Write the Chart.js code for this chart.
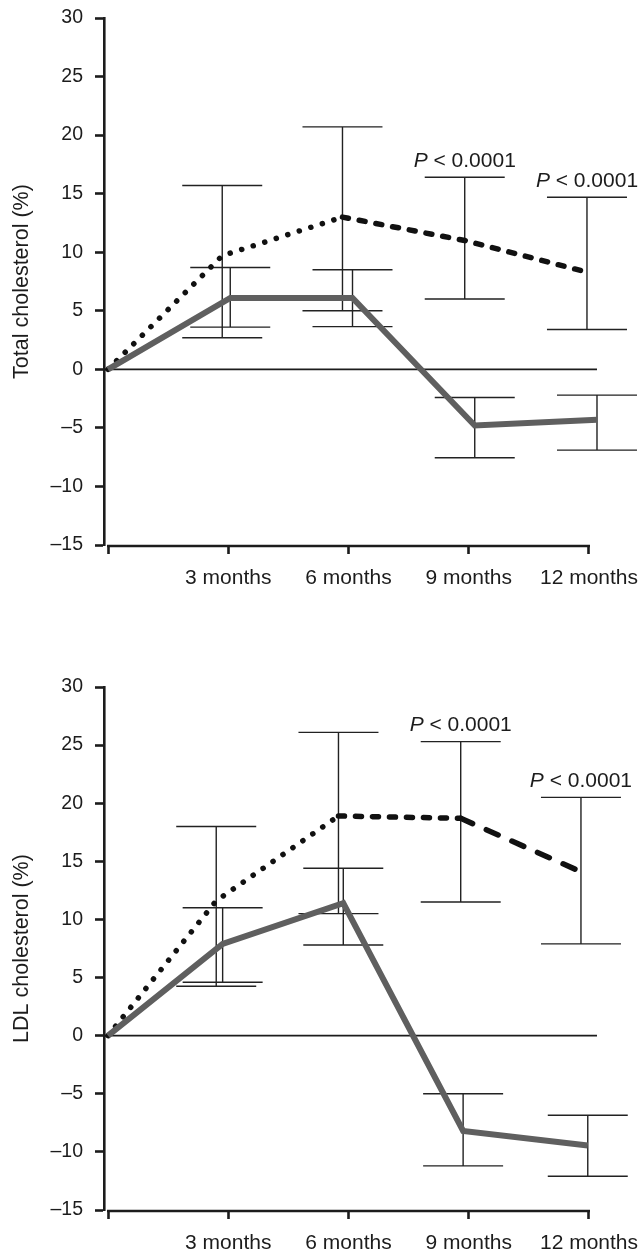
<!DOCTYPE html>
<html>
<head>
<meta charset="utf-8">
<script src="https://cdn.jsdelivr.net/npm/chart.js@4.4.1/dist/chart.umd.min.js"></script>
<style>
  body { margin: 0; background: #fff; }
  canvas { display: block; }
</style>
</head>
<body>
<canvas id="total" width="638" height="600"></canvas>
<canvas id="ldl" width="638" height="650"></canvas>
<script>
// x axis (months) and its labels
const monthTicks = [0, 3, 6, 9, 12];
const monthLabels = ["", "3 months", "6 months", "9 months", "12 months"];
const pLabels = [null, null, null, "P < 0.0001", "P < 0.0001"];

// Total cholesterol, dotted group
const totalDotX = [0, 2.85, 5.85, 8.9, 11.95];
const totalDotMean = [0, 9.7, 13.0, 11.0, 8.3];
const totalDotHigh = [null, 15.7, 20.7, 16.4, 14.7];
const totalDotLow = [null, 2.7, 5.0, 6.0, 3.4];
// Total cholesterol, solid group
const totalSolidX = [0, 3.05, 6.1, 9.15, 12.2];
const totalSolidMean = [0, 6.1, 6.1, -4.8, -4.3];
const totalSolidHigh = [null, 8.7, 8.5, -2.4, -2.2];
const totalSolidLow = [null, 3.6, 3.65, -7.55, -6.9];

// LDL cholesterol, dotted group
const ldlDotX = [0, 2.7, 5.75, 8.8, 11.8];
const ldlDotMean = [0, 11.6, 18.9, 18.7, 14.1];
const ldlDotHigh = [null, 18.0, 26.1, 25.3, 20.5];
const ldlDotLow = [null, 4.25, 10.5, 11.5, 7.9];
// LDL cholesterol, solid group
const ldlSolidX = [0, 2.86, 5.87, 8.86, 11.97];
const ldlSolidMean = [0, 7.9, 11.4, -8.2, -9.45];
const ldlSolidHigh = [null, 11.0, 14.4, -5.0, -6.85];
const ldlSolidLow = [null, 4.6, 7.8, -11.2, -12.1];

const FONT = "'Liberation Sans', Arial, sans-serif";
const INK = "#1c1c1c";

function points(xs, ys) {
  return xs.map((x, i) => ({ x: x, y: ys[i] }));
}

function makeChart(id, title, topPad, axisHeight, dot, solid, dashes) {
  const bars = [
    { xs: dot.x, high: dot.high, low: dot.low },
    { xs: solid.x, high: solid.high, low: solid.low },
  ];

  const extras = {
    id: "extras",
    beforeDatasetsDraw(chart) {
      const { ctx, chartArea } = chart;
      const x = chart.scales.x, y = chart.scales.y;
      ctx.save();
      // zero line
      ctx.strokeStyle = INK;
      ctx.lineWidth = 1.8;
      ctx.beginPath();
      ctx.moveTo(chartArea.left, y.getPixelForValue(0));
      ctx.lineTo(x.getPixelForValue(12.2), y.getPixelForValue(0));
      ctx.stroke();
      // x axis line, starts at month 0 and stops at 12
      ctx.lineWidth = 2.6;
      ctx.beginPath();
      ctx.moveTo(x.getPixelForValue(0) - 1, chartArea.bottom + 1);
      ctx.lineTo(x.getPixelForValue(12) + 1, chartArea.bottom + 1);
      ctx.stroke();
      // error bars
      ctx.lineWidth = 1.4;
      ctx.strokeStyle = "#222";
      bars.forEach((bar) => {
        bar.xs.forEach((m, i) => {
          if (bar.high[i] == null) return;
          const px = x.getPixelForValue(m);
          const top = y.getPixelForValue(bar.high[i]);
          const bot = y.getPixelForValue(bar.low[i]);
          ctx.beginPath();
          ctx.moveTo(px, top);
          ctx.lineTo(px, bot);
          ctx.moveTo(px - 40, top);
          ctx.lineTo(px + 40, top);
          ctx.moveTo(px - 40, bot);
          ctx.lineTo(px + 40, bot);
          ctx.stroke();
        });
      });
      ctx.restore();
    },
    afterDatasetsDraw(chart) {
      const { ctx } = chart;
      const x = chart.scales.x, y = chart.scales.y;
      ctx.save();
      ctx.fillStyle = INK;
      ctx.textBaseline = "middle";
      ctx.textAlign = "left";
      pLabels.forEach((txt, i) => {
        if (!txt) return;
        const cx = x.getPixelForValue(dot.x[i]);
        const cy = y.getPixelForValue(dot.high[i]) - 16;
        const rest = txt.slice(1);
        ctx.font = "italic 21px " + FONT;
        const wp = ctx.measureText("P").width;
        ctx.font = "21px " + FONT;
        const wr = ctx.measureText(rest).width;
        const start = cx - (wp + wr) / 2;
        ctx.font = "italic 21px " + FONT;
        ctx.fillText("P", start, cy);
        ctx.font = "21px " + FONT;
        ctx.fillText(rest, start + wp, cy);
      });
      ctx.restore();
    },
  };

  return new Chart(document.getElementById(id), {
    type: "line",
    data: {
      datasets: [
        {
          label: "solid",
          data: points(solid.x, solid.mean),
          borderColor: "#5f5f5f",
          borderWidth: 6,
          borderJoinStyle: "miter",
          pointRadius: 0,
          tension: 0,
          clip: false,
        },
        {
          label: "dotted",
          data: points(dot.x, dot.mean),
          borderColor: "#111",
          borderWidth: 5.5,
          borderCapStyle: "round",
          pointRadius: 0,
          tension: 0,
          clip: false,
          segment: {
            borderDash: (c) => dashes[c.p0DataIndex],
          },
        },
      ],
    },
    options: {
      responsive: false,
      animation: false,
      layout: { padding: { top: topPad, right: 37, left: 0, bottom: 0 } },
      plugins: { legend: { display: false }, tooltip: { enabled: false } },
      scales: {
        x: {
          type: "linear",
          min: -0.1,
          max: 12.3,
          afterBuildTicks: (s) => {
            s.ticks = monthTicks.map((v) => ({ value: v }));
          },
          afterFit: (s) => {
            s.height = axisHeight;
            s.paddingLeft = 0;
            s.paddingRight = 0;
          },
          border: { display: false },
          grid: {
            drawOnChartArea: false,
            tickLength: 9,
            tickWidth: 2.6,
            tickColor: INK,
          },
          ticks: {
            padding: 12,
            color: INK,
            maxRotation: 0,
            autoSkip: false,
            font: { family: FONT, size: 21 },
            callback: (v) => monthLabels[monthTicks.indexOf(v)],
          },
        },
        y: {
          min: -15,
          max: 30,
          afterFit: (s) => {
            s.width = 104;
            s.paddingTop = 0;
            s.paddingBottom = 0;
          },
          border: { display: true, color: INK, width: 2.6 },
          grid: {
            drawOnChartArea: false,
            tickLength: 9,
            tickWidth: 2.6,
            tickColor: INK,
          },
          ticks: {
            stepSize: 5,
            padding: 12,
            color: INK,
            font: { family: FONT, size: 19.5 },
            callback: (v) => (v < 0 ? "\u2013" + Math.abs(v) : String(v)),
          },
          title: {
            display: true,
            text: title,
            color: INK,
            padding: { top: 9, bottom: 0 },
            font: { family: FONT, size: 21.5 },
          },
        },
      },
    },
    plugins: [extras],
  });
}

makeChart(
  "total",
  "Total cholesterol (%)",
  18,
  55,
  { x: totalDotX, mean: totalDotMean, high: totalDotHigh, low: totalDotLow },
  { x: totalSolidX, mean: totalSolidMean, high: totalSolidHigh, low: totalSolidLow },
  [[0.1, 12], [0.1, 12], [6, 11], [6, 11]]
);

makeChart(
  "ldl",
  "LDL cholesterol (%)",
  87,
  40,
  { x: ldlDotX, mean: ldlDotMean, high: ldlDotHigh, low: ldlDotLow },
  { x: ldlSolidX, mean: ldlSolidMean, high: ldlSolidHigh, low: ldlSolidLow },
  [[0.1, 12], [0.1, 12], [6, 11], [13, 15]]
);
</script>
</body>
</html>
